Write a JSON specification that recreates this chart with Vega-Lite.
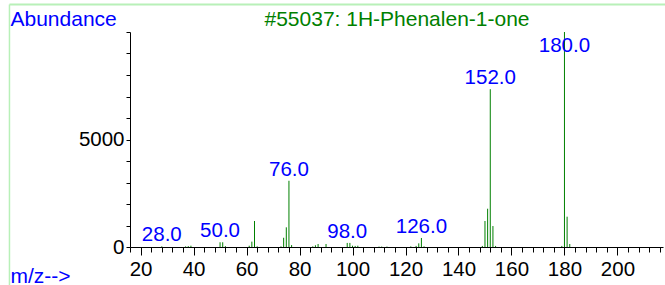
{
  "$schema": "https://vega.github.io/schema/vega-lite/v6.json",
  "width": 533,
  "height": 215,
  "autosize": "none",
  "padding": {"left": 130, "top": 32, "right": 2, "bottom": 38},
  "background": "white",
  "config": {"view": {"stroke": null}, "font": "Liberation Sans"},
  "data": {"values": [
    {"mz": 28, "abundance": 30}, {"mz": 37, "abundance": 30}, {"mz": 38, "abundance": 40}, {"mz": 39, "abundance": 60},
    {"mz": 50, "abundance": 220}, {"mz": 51, "abundance": 220}, {"mz": 52, "abundance": 40},
    {"mz": 61, "abundance": 60}, {"mz": 62, "abundance": 250}, {"mz": 63, "abundance": 1210}, {"mz": 64, "abundance": 30},
    {"mz": 73, "abundance": 30}, {"mz": 74, "abundance": 430}, {"mz": 75, "abundance": 915}, {"mz": 76, "abundance": 3080}, {"mz": 77, "abundance": 90},
    {"mz": 85, "abundance": 30}, {"mz": 86, "abundance": 80}, {"mz": 87, "abundance": 140}, {"mz": 90, "abundance": 140},
    {"mz": 98, "abundance": 190}, {"mz": 99, "abundance": 190}, {"mz": 100, "abundance": 60}, {"mz": 101, "abundance": 50}, {"mz": 102, "abundance": 60},
    {"mz": 110, "abundance": 20}, {"mz": 111, "abundance": 20}, {"mz": 113, "abundance": 20},
    {"mz": 122, "abundance": 30}, {"mz": 124, "abundance": 50}, {"mz": 125, "abundance": 170}, {"mz": 126, "abundance": 420}, {"mz": 127, "abundance": 30},
    {"mz": 149, "abundance": 50}, {"mz": 150, "abundance": 1210}, {"mz": 151, "abundance": 1780}, {"mz": 152, "abundance": 7340}, {"mz": 153, "abundance": 975}, {"mz": 154, "abundance": 50},
    {"mz": 179, "abundance": 50}, {"mz": 180, "abundance": 9999}, {"mz": 181, "abundance": 1410}, {"mz": 182, "abundance": 140}
  ]},
  "resolve": {"axis": {"x": "independent"}},
  "layer": [
    {
      "mark": {"type": "rule", "color": "#008000", "strokeWidth": 1},
      "encoding": {
        "x": {"field": "mz", "type": "quantitative",
          "scale": {"domain": [16, 217.2], "nice": false, "zero": false},
          "axis": {
            "orient": "bottom",
            "values": [16,20,24,28,32,36,40,44,48,52,56,60,64,68,72,76,80,84,88,92,96,100,104,108,112,116,120,124,128,132,136,140,144,148,152,156,160,164,168,172,176,180,184,188,192,196,200,204,208,212,216],
            "tickCount": 1000,
            "format": "d",
            "labelExpr": "datum.value % 20 === 0 ? datum.label : ''",
            "labelOverlap": false, "labelFlush": false, "labelBound": false,
            "labelFontSize": 20.5, "labelColor": "black", "labelPadding": 4,
            "domainColor": "black", "domainWidth": 1,
            "tickColor": "black", "tickWidth": 1,
            "tickSize": {"condition": {"test": "datum.value % 20 === 0", "value": 8}, "value": 5},
            "grid": false,
            "title": "m/z-->", "titleColor": "#0000ff", "titleFontSize": 21, "titleFontWeight": "normal",
            "titleAlign": "left", "titleBaseline": "alphabetic", "titleAnchor": "start", "titleX": -120, "titleY": 35
          }
        },
        "y": {"field": "abundance", "type": "quantitative",
          "scale": {"domain": [0, 10000], "nice": false},
          "axis": {
            "values": [0,1000,2000,3000,4000,5000,6000,7000,8000,9000,10000],
            "tickCount": 1000,
            "format": "d",
            "labelExpr": "datum.value === 0 || datum.value === 5000 ? datum.label : ''",
            "labelOverlap": false, "labelFlush": false, "labelBound": false,
            "labelFontSize": 20.5, "labelColor": "black", "labelPadding": 2,
            "domainColor": "black", "domainWidth": 1,
            "tickColor": "black", "tickWidth": 1, "tickSize": 4,
            "grid": false,
            "title": "Abundance", "titleColor": "#0000ff", "titleFontSize": 21, "titleFontWeight": "normal",
            "titleAngle": 0, "titleAlign": "left", "titleBaseline": "alphabetic", "titleAnchor": "start", "titleX": -120, "titleY": -7
          }
        },
        "y2": {"datum": 0}
      }
    },
    {
      "transform": [
        {"filter": {"field": "mz", "oneOf": [28, 50, 76, 98, 126, 152, 180]}},
        {"calculate": "min(datum.abundance, 8850)", "as": "labelPos"}
      ],
      "mark": {"type": "text", "color": "#0000ff", "fontSize": 20.5, "align": "center", "baseline": "alphabetic", "dy": -5},
      "encoding": {
        "x": {"field": "mz", "type": "quantitative",
          "axis": {
            "orient": "top", "domain": false, "ticks": false, "labels": false, "grid": false,
            "title": "#55037: 1H-Phenalen-1-one", "titleColor": "#008000", "titleFontSize": 21, "titleFontWeight": "normal",
            "titleAlign": "center", "titleBaseline": "alphabetic", "titleX": 266.5, "titleY": -7
          }
        },
        "y": {"field": "labelPos", "type": "quantitative"},
        "text": {"field": "mz", "type": "quantitative", "format": ".1f"}
      }
    },
    {
      "data": {"values": [{}]},
      "mark": {"type": "rule", "color": "#b8f0b8", "strokeWidth": 1.5, "clip": false},
      "encoding": {
        "x": {"datum": -29.5, "axis": null},
        "y": {"datum": 11280},
        "y2": {"datum": -1800}
      }
    },
    {
      "data": {"values": [{}]},
      "mark": {"type": "rule", "color": "#b8f0b8", "strokeWidth": 2, "clip": false},
      "encoding": {
        "x": {"datum": -29.5, "axis": null},
        "x2": {"datum": 240},
        "y": {"datum": 11280}
      }
    }
  ]
}
